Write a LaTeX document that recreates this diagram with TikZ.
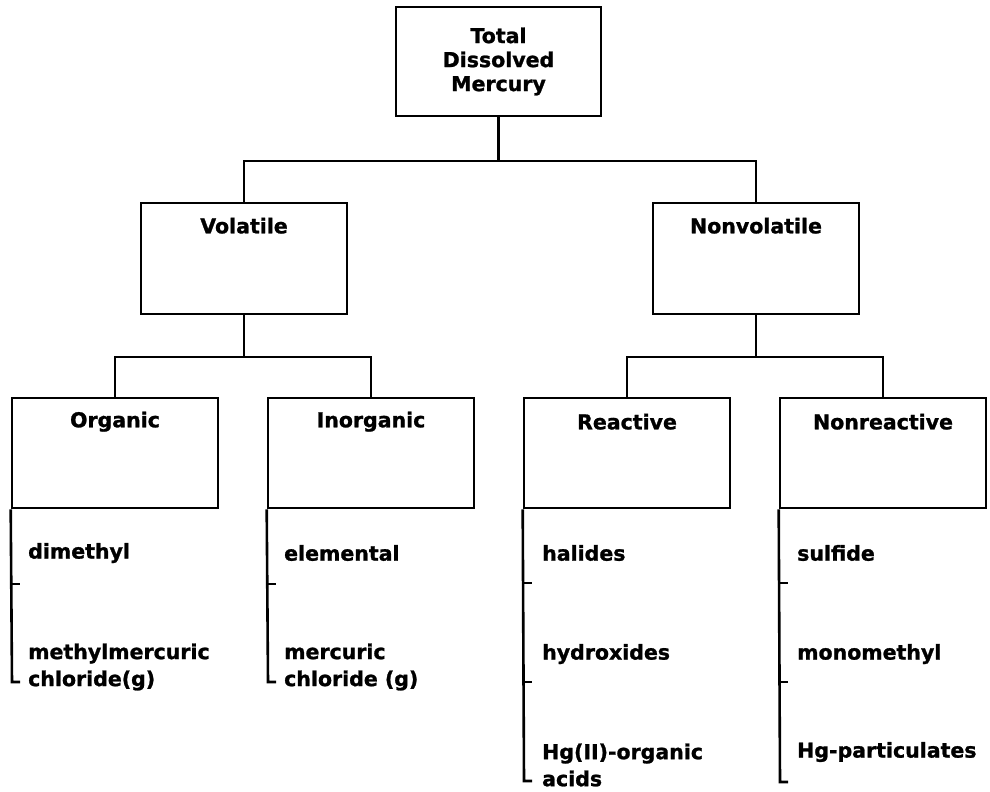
\documentclass[tikz,border=0pt]{standalone}
\usepackage{fontspec}
\newfontfamily\djbold{DejaVu Sans Bold}[FakeBold=1.2]
\begin{document}
\begin{tikzpicture}[x=1pt,y=-1pt,
  every node/.style={font=\djbold\fontsize{20.5}{27}\selectfont, inner sep=0pt},
  box/.style={draw, line width=2.6pt, minimum width=206pt, minimum height=110pt},
  title/.style={anchor=center},
  item/.style={anchor=west, align=left},
  conn/.style={line width=2.6pt},
  tick/.style={line width=2.6pt}]
\useasboundingbox (0,0) rectangle (990,792);
% boxes
\node[box, minimum width=205pt, minimum height=109pt, align=center, font=\djbold\fontsize{20.5}{24}\selectfont] (tdm) at (498.5,61.5) {Total\\Dissolved\\Mercury};
\node[box, minimum height=111pt] (vol) at (244,258.5) {};
\node[box, minimum height=111pt] (nonvol) at (756,258.5) {};
\node[box] (org) at (115,453) {};
\node[box] (inorg) at (371,453) {};
\node[box] (react) at (627,453) {};
\node[box] (nonreact) at (883,453) {};
% box titles
\node[title] (volt) at ([yshift=-24pt]vol.north) {Volatile};
\node[title] (nonvolt) at ([yshift=-24pt]nonvol.north) {Nonvolatile};
\node[title] (orgt) at ([yshift=-25pt]org.north) {Organic};
\node[title] (inorgt) at ([yshift=-25pt]inorg.north) {Inorganic};
\node[title] (reactt) at ([yshift=-25pt]react.north) {Reactive};
\node[title] (nonreactt) at ([yshift=-25pt]nonreact.north) {Nonreactive};
% junctions
\coordinate (j1) at (498.5,161);
\coordinate (j2) at (244,357);
\coordinate (j3) at (756,357);
\draw[conn] (tdm.south) -- (j1);
\draw[conn] (vol.north) |- (j1) -| (nonvol.north);
\draw[conn] (vol.south) -- (j2);
\draw[conn] (org.north) |- (j2) -| (inorg.north);
\draw[conn] (nonvol.south) -- (j3);
\draw[conn] (react.north) |- (j3) -| (nonreact.north);
% items: Organic
\node[item] (i1) at (28,553) {dimethyl};
\node[item] (i2) at (28,667) {methylmercuric\\chloride(g)};
% Inorganic
\node[item] (i3) at (284,553) {elemental};
\node[item] (i4) at (284,667) {mercuric\\chloride (g)};
% Reactive
\node[item] (i5) at (542,553) {halides};
\node[item] (i6) at (542,654) {hydroxides};
\node[item] (i7) at (542,765) {Hg(II)-organic\\acids};
% Nonreactive
\node[item] (i8) at (797,553) {sulfide};
\node[item] (i9) at (797,654) {monomethyl};
\node[item] (i10) at (797,752) {Hg-particulates};
% brackets
\coordinate (b1) at (12,682);
\coordinate (b2) at (268,682);
\coordinate (b3) at (524,781);
\coordinate (b4) at (780,782);
\coordinate (t1) at (12,584);
\coordinate (t2) at (268,584);
\coordinate (t3) at (524,583);
\coordinate (t4) at (524,682);
\coordinate (t5) at (780,583);
\coordinate (t6) at (780,682);
\draw[conn] (org.south west) -- (b1) -- ++(8,0);
\draw[conn] (inorg.south west) -- (b2) -- ++(8,0);
\draw[conn] (react.south west) -- (b3) -- ++(8,0);
\draw[conn] (nonreact.south west) -- (b4) -- ++(8,0);
\foreach \t in {t1,t2,t3,t4,t5,t6} \draw[tick] (\t) -- ++(8,0);
\end{tikzpicture}
\end{document}
